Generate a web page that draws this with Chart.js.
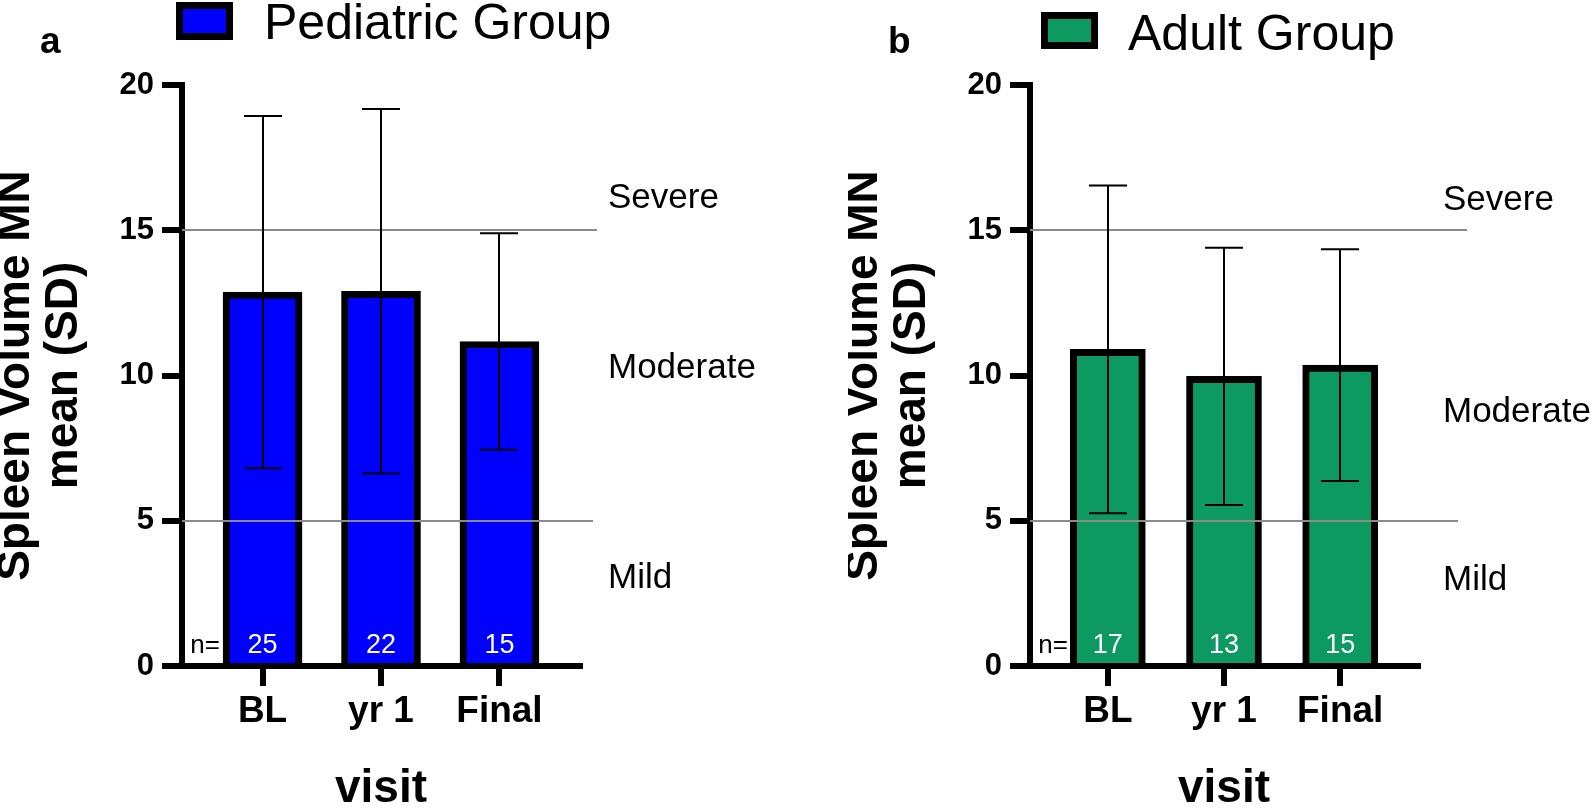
<!DOCTYPE html>
<html>
<head>
<meta charset="utf-8">
<title>Spleen Volume MN</title>
<script src="https://cdn.jsdelivr.net/npm/chart.js@4.4.1/dist/chart.umd.min.js"></script>
<style>
    html, body { margin: 0; padding: 0; background: #fff; }
    body { width: 1594px; height: 808px; position: relative; overflow: hidden; }
    canvas { position: absolute; top: 0; }
</style>
</head>
<body>
<canvas id="painel-a" width="848" height="808" style="left:0"></canvas>
<canvas id="painel-b" width="746" height="808" style="left:848px"></canvas>
<script>
// Dados
const visitas = ['BL', 'yr 1', 'Final'];
const ticksY = [0, 5, 10, 15, 20];
const limites = [5, 15];
const gravidade = ['Severe', 'Moderate', 'Mild'];

const mediasPediatrico = [12.87, 12.90, 11.17];
const dpPediatrico = [6.06, 6.27, 3.73];
const nPediatrico = [25, 22, 15];

const mediasAdulto = [10.90, 9.97, 10.36];
const dpAdulto = [5.64, 4.43, 3.99];
const nAdulto = [17, 13, 15];

const FONTE = '"Liberation Sans", Arial, sans-serif';

// Configuração visual de cada painel (posições em pixels do canvas)
const painelA = {
    letra: 'a', legenda: 'Pediatric Group', cor: '#0000ff',
    medias: mediasPediatrico, dp: dpPediatrico, ns: nPediatrico,
    larguraBarra: 79, larguraCap: 38, xMin: -0.68, xMax: 2.68, margemDireita: 268,
    caixaLegenda: [176, 2, 57, 38], textoLegenda: [264, 39],
    fimLimites: [593, 597], xGravidade: 608, yGravidade: [208, 378, 588]
};
const painelB = {
    letra: 'b', legenda: 'Adult Group', cor: '#0d9962',
    medias: mediasAdulto, dp: dpAdulto, ns: nAdulto,
    larguraBarra: 75, larguraCap: 38, xMin: -0.67, xMax: 2.67, margemDireita: 176,
    caixaLegenda: [193, 12, 57, 37], textoLegenda: [280, 50],
    fimLimites: [610, 619], xGravidade: 595, yGravidade: [210, 422, 590]
};

// Plugin para barras de erro, linhas de limite, n e textos extras
function pluginExtras(p) {
    return {
        id: 'extras',
        afterDatasetsDraw(chart) {
            const c = chart.ctx;
            const x = chart.scales.x;
            const y = chart.scales.y;
            c.save();
            // linhas de limite (5 e 15)
            c.strokeStyle = '#8a8a8a';
            c.lineWidth = 2;
            limites.forEach((v, i) => {
                const py = Math.round(y.getPixelForValue(v));
                c.beginPath();
                c.moveTo(chart.chartArea.left, py);
                c.lineTo(p.fimLimites[i], py);
                c.stroke();
            });
            // barras de erro (média ± DP)
            c.strokeStyle = '#000';
            c.lineWidth = 2;
            p.medias.forEach((m, i) => {
                const px = Math.round(x.getPixelForValue(i));
                const topo = y.getPixelForValue(m + p.dp[i]);
                const base = y.getPixelForValue(m - p.dp[i]);
                const meio = p.larguraCap / 2;
                c.beginPath();
                c.moveTo(px, topo); c.lineTo(px, base);
                c.moveTo(px - meio, topo); c.lineTo(px + meio, topo);
                c.moveTo(px - meio, base); c.lineTo(px + meio, base);
                c.stroke();
            });
            // n de cada visita
            const yN = y.getPixelForValue(0) - 13;
            c.font = '27px ' + FONTE;
            c.textBaseline = 'alphabetic';
            c.textAlign = 'center';
            c.fillStyle = '#fff';
            p.ns.forEach((n, i) => c.fillText(String(n), x.getPixelForValue(i), yN));
            c.textAlign = 'right';
            c.fillStyle = '#000';
            c.font = '26px ' + FONTE;
            c.fillText('n=', chart.chartArea.left + 38, yN);
            c.restore();
        },
        afterDraw(chart) {
            const c = chart.ctx;
            c.save();
            c.fillStyle = '#000';
            c.textBaseline = 'alphabetic';
            c.textAlign = 'left';
            // letra do painel
            c.font = 'bold 37px ' + FONTE;
            c.fillText(p.letra, 40, 53);
            // legenda
            const [bx, by, bw, bh] = p.caixaLegenda;
            c.fillStyle = p.cor;
            c.fillRect(bx, by, bw, bh);
            c.strokeStyle = '#000';
            c.lineWidth = 7;
            c.strokeRect(bx + 3.5, by + 3.5, bw - 7, bh - 7);
            c.fillStyle = '#000';
            c.font = '50px ' + FONTE;
            c.fillText(p.legenda, p.textoLegenda[0], p.textoLegenda[1]);
            // faixas de gravidade
            c.font = '35px ' + FONTE;
            gravidade.forEach((t, i) => c.fillText(t, p.xGravidade, p.yGravidade[i]));
            c.restore();
        }
    };
}

// Função para criar um painel
function criarPainel(id, p) {
    const ctx = document.getElementById(id);
    return new Chart(ctx, {
        type: 'bar',
        data: {
            datasets: [{
                label: p.legenda,
                data: p.medias.map((m, i) => ({ x: i, y: m })),
                backgroundColor: p.cor,
                borderColor: '#000',
                borderWidth: 7,
                borderSkipped: 'start',
                barThickness: p.larguraBarra
            }]
        },
        options: {
            responsive: false,
            animation: false,
            layout: { padding: { top: 85, right: p.margemDireita, left: 0, bottom: 0 } },
            plugins: {
                legend: { display: false },
                tooltip: { enabled: false }
            },
            scales: {
                x: {
                    type: 'linear',
                    min: p.xMin,
                    max: p.xMax,
                    offset: false,
                    afterBuildTicks: s => { s.ticks = visitas.map((v, i) => ({ value: i })); },
                    afterFit: s => { s.height = 142; },
                    ticks: {
                        callback: v => visitas[v],
                        color: '#000',
                        font: { family: FONTE, size: 37, weight: 'bold' },
                        padding: 4,
                        maxRotation: 0,
                        autoSkip: false
                    },
                    grid: { offset: false, drawOnChartArea: false, tickLength: 20, color: '#000', lineWidth: 6 },
                    border: { color: '#000', width: 6 },
                    title: {
                        display: true,
                        text: 'visit',
                        color: '#000',
                        font: { family: FONTE, size: 46, weight: 'bold', lineHeight: 0.8 },
                        padding: 0
                    }
                },
                y: {
                    min: 0,
                    max: 20,
                    afterBuildTicks: s => { s.ticks = ticksY.map(v => ({ value: v })); },
                    afterFit: s => { s.width = 182; },
                    ticks: {
                        color: '#000',
                        font: { family: FONTE, size: 31, weight: 'bold' },
                        padding: 8
                    },
                    grid: { drawOnChartArea: false, tickLength: 20, color: '#000', lineWidth: 6 },
                    border: { color: '#000', width: 6 },
                    title: {
                        display: true,
                        text: ['Spleen Volume MN', 'mean (SD)'],
                        color: '#000',
                        font: { family: FONTE, size: 46, weight: 'bold', lineHeight: 1.05 },
                        padding: { top: -8, bottom: 0 }
                    }
                }
            }
        },
        plugins: [pluginExtras(p)]
    });
}

criarPainel('painel-a', painelA);
criarPainel('painel-b', painelB);
</script>
</body>
</html>
